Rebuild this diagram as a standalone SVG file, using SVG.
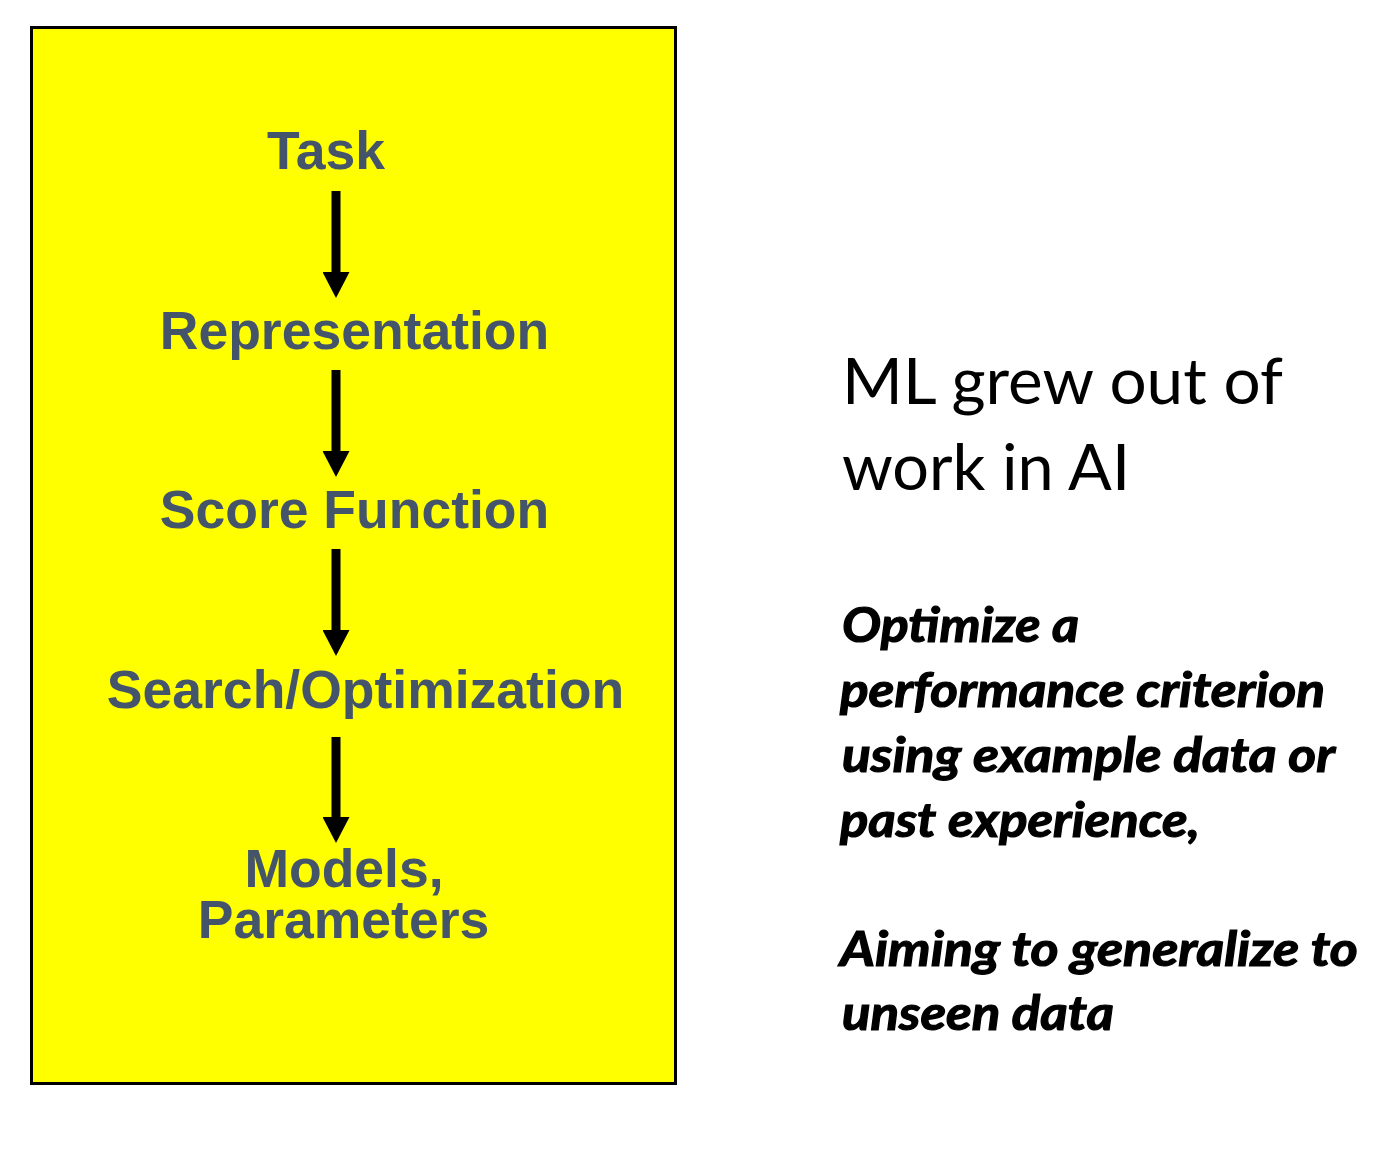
<svg xmlns="http://www.w3.org/2000/svg" width="1384" height="1170" viewBox="0 0 1384 1170">
  <style>
    .step { font-family: "Liberation Sans", Arial, sans-serif; font-weight: bold; font-size: 53.5px; fill: #44546A; text-anchor: middle; }
    .title { font-family: Lato, "Open Sans", sans-serif; font-size: 63px; fill: #000000; }
    .note { font-family: Lato, "Open Sans", sans-serif; font-weight: bold; font-style: italic; font-size: 47px; fill: #000000; stroke: #000000; stroke-width: 1.2px; }
    .flow { stroke: #000000; stroke-width: 9; fill: none; marker-end: url(#head); }
  </style>
  <defs>
    <marker id="head" viewBox="0 0 26 27" refX="0" refY="13.5" markerWidth="26" markerHeight="27" markerUnits="userSpaceOnUse" orient="auto">
      <path d="M0,0 L26,13.5 L0,27 Z" fill="#000000"/>
    </marker>
  </defs>

  <rect width="1384" height="1170" fill="#ffffff"/>

  <!-- yellow pipeline panel -->
  <rect id="panel" x="31.5" y="27.5" width="644" height="1056" fill="#ffff00" stroke="#000000" stroke-width="3"/>

  <g id="task"><text class="step" x="326" y="169">Task</text></g>
  <g id="representation"><text class="step" x="354.5" y="349">Representation</text></g>
  <g id="score-function"><text class="step" x="354.5" y="528">Score Function</text></g>
  <g id="search-optimization"><text class="step" x="365.5" y="708">Search/Optimization</text></g>
  <g id="models-parameters">
    <text class="step" x="344" y="887">Models,</text>
    <text class="step" x="343.5" y="938">Parameters</text>
  </g>

  <!-- downward arrows between stages -->
  <g id="connectors">
    <line class="flow" x1="336" y1="191" x2="336" y2="272"/>
    <line class="flow" x1="336" y1="370" x2="336" y2="451"/>
    <line class="flow" x1="336" y1="549" x2="336" y2="630"/>
    <line class="flow" x1="336" y1="737" x2="336" y2="817"/>
  </g>

  <!-- right-hand commentary -->
  <g id="heading">
    <text class="title" x="842" y="404" textLength="441" lengthAdjust="spacingAndGlyphs">ML grew out of</text>
    <text class="title" x="842" y="490" textLength="288" lengthAdjust="spacingAndGlyphs">work in AI</text>
  </g>
  <g id="definition">
    <text class="note" x="842" y="642" textLength="237" lengthAdjust="spacingAndGlyphs">Optimize a</text>
    <text class="note" x="840" y="707" textLength="485" lengthAdjust="spacingAndGlyphs">performance criterion</text>
    <text class="note" x="842" y="772" textLength="493" lengthAdjust="spacingAndGlyphs">using example data or</text>
    <text class="note" x="840" y="837" textLength="360" lengthAdjust="spacingAndGlyphs">past experience,</text>
    <text class="note" x="840" y="966" textLength="518" lengthAdjust="spacingAndGlyphs">Aiming to generalize to</text>
    <text class="note" x="842" y="1030" textLength="272" lengthAdjust="spacingAndGlyphs">unseen data</text>
  </g>
</svg>
